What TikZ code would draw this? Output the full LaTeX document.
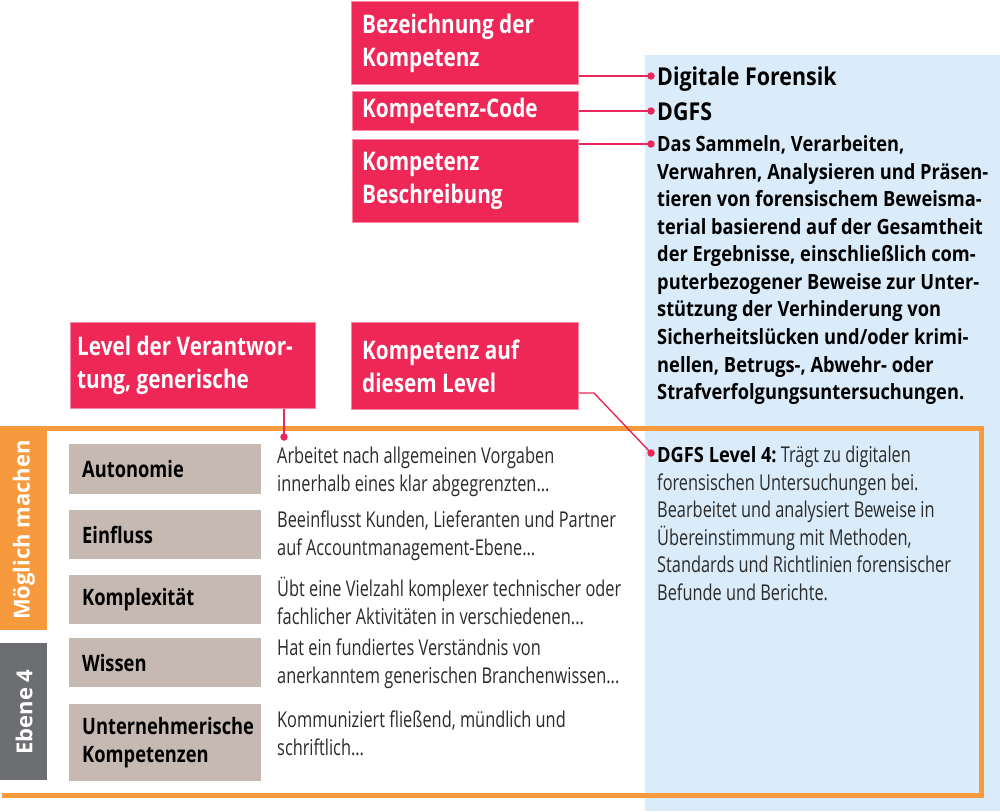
\documentclass[tikz,border=0pt]{standalone}
\usepackage{fontspec}
\setmainfont{Open Sans}
\newfontfamily\cond[FakeStretch=0.87]{Open Sans}
\newfontfamily\condL[FakeStretch=0.81]{Open Sans}
\newfontfamily\lightc[FakeStretch=0.75]{Open Sans}
\definecolor{redbox}{HTML}{EE2757}
\definecolor{redline}{HTML}{E8285A}
\definecolor{orangef}{HTML}{F79A3E}
\definecolor{grayb}{HTML}{6D6E71}
\definecolor{beige}{HTML}{C5B9B1}
\definecolor{bluebg}{HTML}{DAEBF9}
\definecolor{txt}{HTML}{2B2B2B}
\tikzset{
  redlabel/.style={fill=redbox, draw=redbox!55!white, line width=0.8pt, inner sep=0pt, anchor=north west},
  redtext/.style={inner sep=0pt, anchor=west, text=white, align=left, font=\condL\bfseries\fontsize{25.6}{33}\selectfont},
  beigebox/.style={fill=beige, inner sep=0pt, anchor=north west, minimum width=192pt},
  beigetext/.style={inner sep=0pt, anchor=west, text=black, align=left, font=\condL\bfseries\fontsize{22.6}{28}\selectfont},
  desc/.style={inner sep=0pt, anchor=west, align=left, text=txt, font=\lightc\fontsize{21.8}{28}\selectfont},
  conn/.style={redline, line width=1.4pt},
  dotc/.style={fill=redline, circle, inner sep=0pt, minimum size=7.5pt},
  sidebar/.style={text=white, font=\bfseries\fontsize{22}{26}\selectfont, rotate=90, inner sep=0pt}
}
\begin{document}
\begin{tikzpicture}[x=1pt,y=-1pt]
\useasboundingbox (0,0) rectangle (1000,811);
\fill[white] (0,0) rectangle (1000,811);
% blue panel
\fill[bluebg] (645,55) rectangle (1000,811);
% orange frame
\draw[orangef, line width=5pt] (0,428) -- (981,428) -- (981,795) -- (2,795);
\fill[orangef] (0,426) rectangle (47,630);
\fill[grayb] (0,643) rectangle (47,780);
\node[sidebar] (moeg) at (24,530) {Möglich machen};
\node[sidebar] (ebene) at (24,712) {Ebene 4};

% top red labels
\node[redlabel, minimum width=227pt, minimum height=83pt] (bez) at (351,1) {};
\node[redtext] (bezt) at ([xshift=11pt]bez.west) {Bezeichnung der\\Kompetenz};
\node[redlabel, minimum width=226pt, minimum height=39pt] (code) at (352,91) {};
\node[redtext] (codet) at ([xshift=10pt]code.west) {Kompetenz-Code};
\node[redlabel, minimum width=226pt, minimum height=83pt] (beschr) at (352,139) {};
\node[redtext] (beschrt) at ([xshift=10pt]beschr.west) {Kompetenz\\Beschreibung};

% right texts
\coordinate (d1) at (651,76);
\coordinate (d2) at (651,111);
\coordinate (d3) at (651,144);
\node[inner sep=0pt, anchor=west, font=\cond\bfseries\fontsize{24.6}{30}\selectfont] (name) at (657,79) {Digitale Forensik};
\node[inner sep=0pt, anchor=west, font=\cond\bfseries\fontsize{24.6}{30}\selectfont] (dgfs) at (657,112) {DGFS};
\node[inner sep=0pt, anchor=north west, align=left, font=\cond\bfseries\fontsize{21}{27.55}\selectfont] (desctext) at (657,135.5) {Das Sammeln, Verarbeiten,\\Verwahren, Analysieren und Präsen-\\tieren von forensischem Beweisma-\\terial basierend auf der Gesamtheit\\der Ergebnisse, einschließlich com-\\puterbezogener Beweise zur Unter-\\stützung der Verhinderung von\\Sicherheitslücken und/oder krimi-\\nellen, Betrugs-, Abwehr- oder\\Strafverfolgungsuntersuchungen.};

\draw[conn] (d1 -| bez.east) -- (d1);
\draw[conn] (d2 -| code.east) -- (d2);
\draw[conn] (d3 -| beschr.east) -- (d3);
\node[dotc] at (d1) {};
\node[dotc] at (d2) {};
\node[dotc] at (d3) {};

% second row red labels
\node[redlabel, minimum width=245pt, minimum height=86pt] (lvl) at (70,322) {};
\node[redtext] (lvlt) at ([xshift=7pt]lvl.west) {Level der Verantwor-\\tung, generische};
\node[redlabel, minimum width=227pt, minimum height=87pt] (kaf) at (351,322) {};
\node[redtext] (kaft) at ([xshift=11pt]kaf.west) {Kompetenz auf\\diesem Level};

\coordinate (d4) at (284,437);
\coordinate (d5) at (651,453);
\coordinate (k5) at (594,393);
\draw[conn] (d4 |- lvl.south) -- (d4);
\draw[conn] (k5 -| kaf.east) -- (k5) -- (d5);
\node[dotc] at (d4) {};
\node[dotc] at (d5) {};

% beige boxes
\node[beigebox, minimum height=50pt] (auto) at (69,444) {};
\node[beigetext] (autot) at ([xshift=13pt]auto.west) {Autonomie};
\node[beigebox, minimum height=49pt] (einf) at (69,510) {};
\node[beigetext] (einft) at ([xshift=13pt]einf.west) {Einfluss};
\node[beigebox, minimum height=49pt] (kompl) at (69,575) {};
\node[beigetext] (komplt) at ([xshift=13pt]kompl.west) {Komplexität};
\node[beigebox, minimum height=49pt] (wiss) at (69,638) {};
\node[beigetext] (wisst) at ([xshift=13pt]wiss.west) {Wissen};
\node[beigebox, minimum height=77pt] (unter) at (69,704) {};
\node[beigetext] (untert) at ([xshift=13pt]unter.west) {Unternehmerische\\Kompetenzen};

\node[desc] (autod) at (277,472) {Arbeitet nach allgemeinen Vorgaben\\innerhalb eines klar abgegrenzten...};
\node[desc] (einfd) at (277,536) {Beeinflusst Kunden, Lieferanten und Partner\\auf Accountmanagement-Ebene...};
\node[desc] (kompld) at (277,601) {Übt eine Vielzahl komplexer technischer oder\\fachlicher Aktivitäten in verschiedenen...};
\node[desc] (wissd) at (277,664) {Hat ein fundiertes Verständnis von\\anerkanntem generischen Branchenwissen...};
\node[desc] (unterd) at (277,733) {Kommuniziert fließend, mündlich und\\schriftlich...};

% level text
\node[inner sep=0pt, anchor=north west, align=left, text=txt, font=\lightc\fontsize{21.8}{27.5}\selectfont] (levtext) at (657,446) {{\cond\bfseries\color{black}\fontsize{21}{27.5}\selectfont DGFS Level 4:}\hspace{-1.5pt} Trägt zu digitalen\\forensischen Untersuchungen bei.\\Bearbeitet und analysiert Beweise in\\Übereinstimmung mit Methoden,\\Standards und Richtlinien forensischer\\Befunde und Berichte.};
\end{tikzpicture}
\end{document}
